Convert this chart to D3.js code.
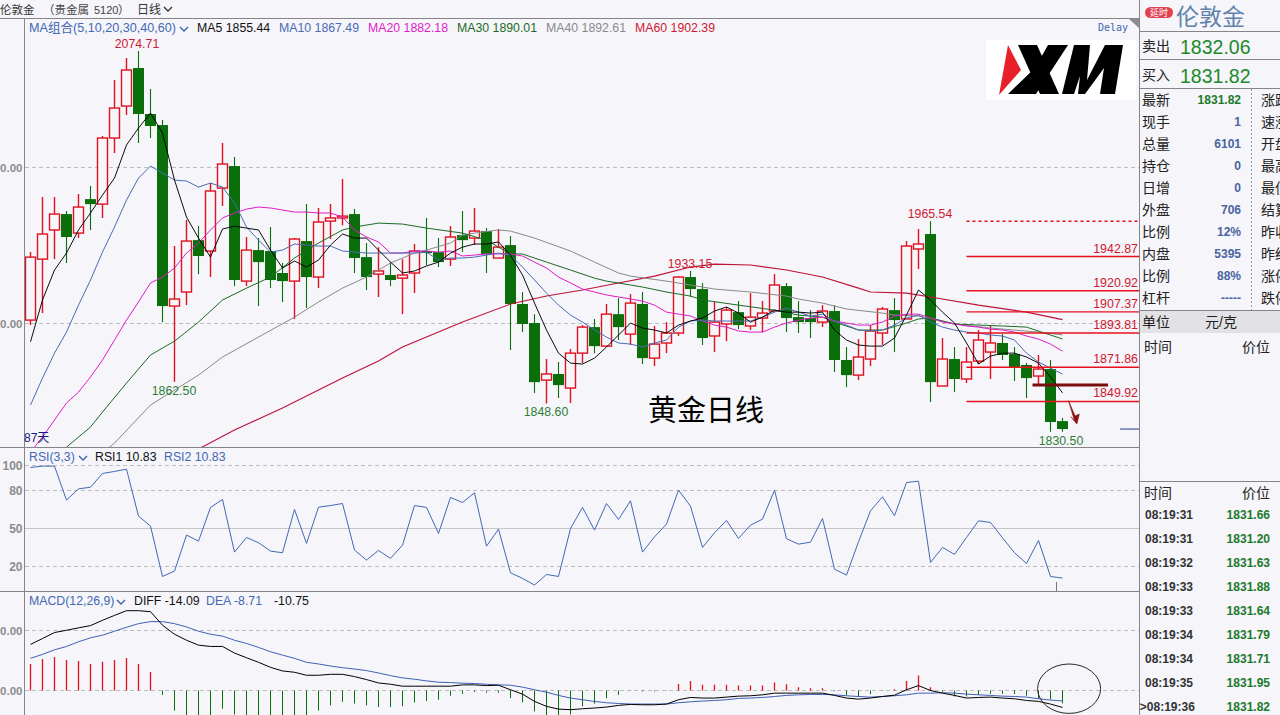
<!DOCTYPE html>
<html>
<head>
<meta charset="utf-8">
<script src="https://cdn.jsdelivr.net/npm/d3@7"></script>
<style>
html,body{margin:0;padding:0;background:#f5f5fa;overflow:hidden}
svg{display:block;font-family:"Liberation Sans","Noto Sans CJK SC",sans-serif}
</style>
</head>
<body>
<svg id="c" width="1280" height="715"></svg>
<script>
// ---------- price pane ----------
const open=[1902.1,1941.2,1959.9,1970.1,1957.9,1979.7,1976.5,2018.9,2039.4,2063.8,2034.3,2027.2,1911.1,1920.1,1953.4,1946.4,1986.8,2000.9,1927.1,1947,1946.4,1932.3,1927.1,1952.8,1929.7,1965.6,1967.6,1970.1,1942.5,1931.6,1931,1929,1932.3,1946.4,1945.7,1941.2,1956.6,1954.7,1959.2,1941.9,1950.2,1912.4,1900.2,1863.6,1867.5,1858.5,1880.9,1897.6,1885.4,1905.9,1893.1,1912.4,1877.7,1887.4,1893.8,1929.7,1922,1891.9,1899.6,1907.2,1898.3,1903.4,1907.9,1923.9,1904,1903.4,1900.8,1907.9,1876.5,1866.8,1877.1,1893.8,1908.5,1902.8,1947.7,1957.3,1859.8,1877.1,1864.3,1875.8,1881.6,1887.4,1880.3,1873.3,1866.2,1870.7,1837.3];
const high=[1945.7,1981,1981,1972,1982.9,1988.1,2020.2,2056.1,2070.2,2074.71,2050.3,2030.4,1949.6,1966.3,1962.4,1990,2015.7,2006.7,1955.4,1954.7,1961.8,1938.7,1954.7,1976.5,1974,1976.5,1992.6,1973.3,1951.5,1948.9,1939.3,1941.2,1950.9,1967.6,1954.7,1962.4,1972,1974,1961.1,1960.5,1956,1920.1,1905.9,1877.1,1875.2,1883.5,1898.9,1902.8,1912.4,1916.2,1918.8,1920.1,1898.3,1900.8,1930.3,1933.6,1925.9,1913.7,1910.5,1914.3,1919.4,1914.3,1931.6,1925.9,1914.3,1908.5,1911.7,1911.7,1884.8,1889.9,1898.9,1910.5,1916.2,1952.8,1960.5,1965.54,1890.6,1884.8,1884.8,1895.7,1898.3,1893.1,1884.8,1874.5,1879.7,1876.5,1839.3];
const low=[1898.9,1906.6,1941.2,1938.7,1954.7,1959.9,1967.6,2009.3,2033.6,2015.7,2018.9,1900.8,1862.5,1911.7,1931.6,1929.7,1975.3,1923.9,1923.9,1911.1,1922.6,1913.7,1902.8,1909.8,1922.6,1954.1,1963,1932.3,1921.4,1916.9,1923.9,1905.9,1919.4,1937.4,1936.1,1936.8,1945.7,1950.2,1932.3,1941.9,1882.9,1894.4,1855.3,1848.6,1852.1,1848.9,1874.5,1880.9,1884.8,1889.3,1886.1,1873.9,1872.6,1880.9,1891.9,1916.9,1886.1,1881.6,1888.6,1896.3,1895.7,1894.4,1907.9,1894.4,1893.8,1890.6,1897.6,1868.8,1859.1,1863.6,1872.6,1886.1,1881.6,1902.8,1934.8,1849.5,1859.8,1855.9,1861.7,1873.9,1864.3,1876.5,1863,1852.1,1859.8,1830.5,1830.5];
const close=[1942.5,1957.3,1970.1,1955.4,1974.6,1976.5,2018.9,2038.1,2062.5,2034.3,2026.6,1911.1,1915.6,1952.8,1943.2,1984.9,2002.2,1927.8,1947,1939.3,1927.8,1927.1,1954.1,1929.7,1965,1967.6,1968.8,1941.9,1929.7,1933.6,1927.8,1931,1946.4,1945.1,1939.3,1955.4,1953.4,1959.2,1944.5,1948.9,1912.4,1899.6,1862.3,1867.5,1860.4,1880.9,1897.6,1885.4,1905.9,1897.6,1913,1877.7,1886.7,1893.8,1929.7,1922,1890.6,1900.8,1908.5,1898.9,1904,1906.6,1924.6,1903.4,1900.8,1900.8,1907.9,1876.5,1866.8,1878.4,1895.1,1909.2,1902.1,1949.6,1950.9,1862.3,1877.1,1864.3,1875.2,1889.3,1887.4,1879.7,1871.9,1864.9,1870.7,1836.7,1832.2];

const ma5=[1888.2,1915,1934.2,1945.1,1959.9,1970.8,1982.3,1993.2,2014.4,2025.3,2034.9,2022.1,1991.9,1968.2,1954.7,1942.5,1960.5,1962.4,1961.1,1959.9,1947,1935.5,1940,1936.1,1940.6,1950.2,1957.3,1954.7,1954.7,1947,1939.3,1932.3,1933.6,1936.8,1939.3,1945.1,1948.9,1950.9,1950.9,1952.2,1943.8,1931,1913,1895.7,1880.9,1874.5,1873.9,1877.7,1884.8,1892.5,1900.2,1897,1895.7,1893.8,1898.9,1901.5,1903.4,1907.9,1910.5,1906.6,1900.8,1904,1908.5,1907.2,1907.2,1906.6,1907.2,1895.7,1889.3,1886.1,1885.4,1885.4,1890.6,1905.3,1921.4,1915,1907.2,1900.2,1887.4,1873.9,1879,1880.9,1880.9,1878.4,1874.5,1865.6,1855.44];
const ma10=[1847.6,1864.9,1880.9,1894.4,1911.7,1927.8,1945.7,1961.8,1979.1,1993.2,2000.9,1996.4,1991.9,1991.3,1987.4,1990,1987.4,1977.2,1961.8,1953.4,1945.7,1947,1950.9,1950.2,1949.6,1949.6,1946.4,1945.7,1945.1,1945.1,1945.1,1945.1,1945.1,1945.7,1940.6,1941.9,1941.9,1942.5,1943.8,1945.1,1943.8,1936.1,1927.8,1919.4,1911.7,1905.3,1900.8,1895.7,1891.2,1887.4,1886.7,1884.8,1887.4,1889.3,1897.6,1901.5,1902.1,1901.5,1901.5,1901.5,1901.5,1904,1907.2,1909.8,1907.2,1904.7,1905.9,1901.5,1898.9,1895.7,1895.1,1895.7,1898.9,1903.4,1905.3,1900.8,1897.6,1895.7,1894.4,1893.8,1892.5,1891.9,1889.3,1880.9,1875.2,1871.3,1867.49];
const ma20=[1817.4,1827.1,1838,1848.9,1855.9,1865.6,1876.5,1889.3,1902.1,1913.7,1925.9,1929.7,1935.5,1945.1,1951.5,1959.9,1967.6,1970.8,1973.3,1974.6,1974,1972.7,1971.4,1971.4,1970.8,1970.8,1968.2,1959.9,1955.4,1952.2,1945.1,1945.1,1946.4,1946.4,1945.7,1946.4,1943.2,1943.8,1944.5,1944.5,1944.5,1943.2,1939.3,1935.5,1929.7,1925.9,1922,1920.1,1918.2,1916.9,1915.6,1914.3,1911.7,1907.2,1905.9,1904.7,1901.5,1898.9,1897.6,1895.1,1894.4,1894.4,1897.6,1900.2,1902.1,1903.4,1904,1901.5,1900.2,1898.9,1898.9,1900.8,1904.7,1905.9,1905.9,1903.4,1900.8,1899.6,1898.3,1897.6,1896.3,1895.7,1894.4,1891.9,1889.9,1886.7,1882.18];

const ma30Index=[3,5,6,8,10,12,14,16,18,20,22,24,26,27,29,31,33,36,38,39,40,41,43,45,47,48,50,51,53,55,56,59,62,64,66,67,69,71,73,74,75,77,79,81,83,85,86];
const ma30=[1820.6,1833.5,1843.1,1861.7,1879.7,1888.6,1900.8,1915,1922.6,1929.7,1941.9,1951.5,1959.9,1961.8,1964.3,1963.7,1961.1,1957.9,1953.4,1948.9,1944.5,1944.5,1939.3,1934.2,1929,1927.1,1924.6,1923.3,1920.1,1917.5,1915,1911.7,1908.5,1905.3,1904,1900.8,1895.7,1895.7,1900.2,1902.8,1903.4,1899.6,1898.9,1898.3,1897.6,1892.5,1890.01];
const ma40Index=[6,7,10,14,16,19,22,24,26,28,30,32,33,35,36,37,39,40,42,45,47,49,50,53,55,57,60,63,64,66,68,71,72,74,75,77,80,82,84,86];
const ma40=[1817,1823.2,1847.6,1866.8,1878.4,1891.2,1904,1913.7,1922.6,1929.7,1938.7,1945.1,1947,1951.5,1956.6,1957.9,1959.9,1959.2,1954.7,1946.4,1939.3,1932.3,1930.3,1927.1,1924.6,1922,1920.1,1917.5,1915.6,1913,1909.2,1906.6,1905.3,1904.7,1903.4,1899.6,1897,1895.7,1894.4,1892.61];
const ma60Index=[14,17,21,24,26,29,31,33,36,40,43,46,49,52,55,57,60,63,66,69,70,73,75,79,83,86];
const ma60=[1819.4,1831.6,1845.7,1857.2,1864.9,1875.8,1884.8,1891.2,1900.8,1912.4,1917.5,1921.4,1925.9,1930.3,1936.1,1938,1937.4,1934.2,1929.7,1922.6,1920.1,1919.4,1916.9,1911.7,1907.2,1902.39];

const priceTicks=[2000,1900];
const fibValues=[1942.87,1920.92,1907.37,1893.81,1871.86,1849.92];
const fibTop=1965.54;
const supportLevel=1860.4;
const lastPrice=1832.2;
const maNames=["MA5","MA10","MA20","MA30","MA40","MA60"];
const maLabels=["1855.44","1867.49","1882.18","1890.01","1892.61","1902.39"];

// ---------- RSI pane ----------
const rsi=[98.4,99.5,99.5,72.6,81.5,82.8,93.7,95.3,97.1,59.9,52,12.1,16.4,44.9,40.1,66.8,73.1,31.4,43,38.8,32.2,30.9,65.2,38.3,67,68.3,69.9,33,25.1,32.7,26.4,36.9,68.3,66.8,46.2,74.7,70.7,78.4,36.1,49.6,15,10.6,5.3,13.7,12.1,50.1,66.8,48.8,69.9,57.3,72,31.4,43.5,53.6,80.5,67.8,35.1,46.7,56.5,42.2,52.8,57.5,80.5,42,37.7,39.3,58,17.9,13.2,39.6,64.1,75.2,60.2,86.5,87.6,23.2,35.1,29.6,43,56.2,54.9,42.7,30.9,22.4,40.6,12.1,10.83];
const rsiTicks=[100,80,50,20];

// ---------- MACD pane ----------
const diff=[38.4,43.3,48.3,50.2,52.2,54.1,58.5,62.6,66.5,66.5,65.7,54.4,46.9,41.9,37.8,36.7,36.7,31.2,27.3,23.5,19.3,16.3,15.2,12.7,12.7,13.5,13.5,11.6,9.1,6.3,5.2,3.6,3.6,3.6,3.6,3.6,4.7,4.7,4.1,4.4,0.6,-3,-9.1,-13.2,-15.5,-16,-15.2,-14.6,-13.8,-12.4,-11.6,-11.9,-11.9,-11.3,-7.7,-5.8,-6.3,-6.3,-5.5,-4.7,-4.4,-3.6,-2.2,-2.2,-2.2,-2.2,-2.2,-4.1,-6.3,-7.2,-6.3,-5,-3.9,0.6,4.1,0,-2.2,-4.1,-6.3,-5.8,-5.5,-6.3,-6.9,-8.3,-9.1,-11.3,-14.09];
const dea=[26.8,30.1,33.9,36.7,40.6,43.9,46.1,49.4,52.7,55.7,57.4,57.4,55.7,53,49.4,46.9,45.3,41.9,39.2,35.9,32.3,29.5,26.8,23.5,22.1,20.4,19,17.9,16.6,14.6,12.4,10.5,9.4,8,6.9,6.6,6.1,5.8,5.2,4.7,4.4,2.8,0.6,-1.4,-4.1,-6.3,-7.7,-9.1,-10.2,-10.8,-11.3,-11.3,-11.3,-11.3,-10.2,-9.4,-8.8,-8.3,-7.7,-6.6,-6.3,-5.8,-5,-4.1,-3.6,-3.3,-3.3,-3.6,-4.4,-5,-5.5,-5,-4.4,-3.6,-2.2,-2.2,-1.9,-2.2,-3,-3.6,-4.1,-4.7,-5,-5.5,-6.9,-8,-8.71];
const macd=[22.1,26.2,27.9,25.4,24.6,22.1,24,25.4,27,22.1,15.5,-3.6,-16.8,-22,-24,-22,-15.2,-20,-24,-24,-25,-25,-24,-23,-16.6,-12.4,-9.4,-10.8,-12.4,-13.8,-13.8,-13.2,-9.9,-8.8,-7.7,-4.4,-2.8,-1.1,-1.7,-1.9,-6.3,-9.9,-17.4,-21,-22,-20,-13.2,-11,-6.3,-3.6,-0.3,-0.8,-0.8,-0.2,5.5,8,4.7,4.7,4.7,4.1,4.1,4.1,6.6,5.2,2.8,1.9,1.9,-0.6,-4.1,-5,-3,-0.3,1.1,8,12.4,2.8,-1.1,-5,-5,-3.6,-2.8,-2.8,-3,-4.4,-6.6,-7.5,-10.75];
const macdTicks=[50,0];

// ---------- quote panel ----------
const quoteLabels=["最新","现手","总量","持仓","日增","外盘","比例","内盘","比例","杠杆"];
const quoteValues=["1831.82","1","6101","0","0","706","12%","5395","88%","-----"];
const quoteLabels2=["涨跌","速涨","开盘","最高","最低","结算","昨收","昨结","涨停","跌停"];
const tickTimes=["08:19:31","08:19:31","08:19:32","08:19:33","08:19:33","08:19:34","08:19:34","08:19:35",">08:19:36"];
const tickPrices=["1831.66","1831.20","1831.63","1831.88","1831.64","1831.79","1831.71","1831.95","1831.82"];

// ---------- drawing ----------
const svg=d3.select("#c");
const BG="#f5f5fa",RED="#e0101f",GREEN="#0a6e0a",BLUE="#4468b4",LINE="#858589",TXTGREEN="#2f7d32",TXTRED="#d0182f";
const PANEL=1139.5;
const n=open.length;
const x=d3.scaleLinear().domain([0,n-1]).range([30.5,1062.5]);
const y=d3.scaleLinear().domain([2074.71,1830.5]).range([51,431.7]);
const yR=d3.scaleLinear().domain([100,20]).range([465.5,566.5]);
const yM=d3.scaleLinear().domain([50,0]).range([630.5,690.5]);

const defs=svg.append("defs");
defs.append("clipPath").attr("id","pricePane").append("rect").attr("x",25).attr("y",19).attr("width",PANEL-25).attr("height",428);
defs.append("clipPath").attr("id","macdPane").append("rect").attr("x",25).attr("y",592).attr("width",PANEL-25).attr("height",123);

function grid(scale,vals,solid){
  const g=svg.append("g");
  g.selectAll("line").data(vals).join("line")
   .attr("x1",25).attr("x2",PANEL)
   .attr("y1",d=>Math.floor(scale(d))+.5).attr("y2",d=>Math.floor(scale(d))+.5)
   .attr("stroke",d=>solid&&solid(d)?"#c6c6c6":"#bdbdbd")
   .attr("stroke-dasharray",d=>solid&&solid(d)?null:"4,3");
}
grid(y,priceTicks);
grid(yR,rsiTicks,d=>d===50);
grid(yM,macdTicks);

function axis(scale,vals,fmt,size){
  const g=svg.append("g").attr("transform","translate(24.5,0)")
    .call(d3.axisLeft(scale).tickValues(vals).tickSize(0).tickPadding(2).tickFormat(fmt));
  g.select(".domain").remove();
  g.selectAll("text").attr("fill","#8c8c8c").attr("font-size",size).attr("font-weight","bold")
    .attr("font-family",'"Liberation Sans",sans-serif');
}
// the reference window cuts these labels on the left, leaving only their last four characters
const cutLabel=d=>d3.format(".2f")(d).slice(-4);
axis(y,priceTicks,cutLabel,11.5);
axis(yR,rsiTicks,d3.format("d"),12);
axis(yM,macdTicks,cutLabel,11.5);

// candles
const candles=d3.range(n).map(i=>({i,o:open[i],h:high[i],l:low[i],c:close[i],up:close[i]>=open[i]}));
const pr=svg.append("g").attr("clip-path","url(#pricePane)");
const cg=pr.append("g");
cg.selectAll("line.w").data(candles).join("line").attr("class","w")
  .attr("x1",d=>x(d.i)).attr("x2",d=>x(d.i)).attr("y1",d=>y(d.h)).attr("y2",d=>y(d.l))
  .attr("stroke",d=>d.up?RED:GREEN).attr("stroke-width",d=>d.up?1.4:1.1);
cg.selectAll("rect.b").data(candles).join("rect").attr("class","b")
  .attr("x",d=>x(d.i)-(d.up?5:5.5)).attr("width",d=>d.up?10:11)
  .attr("y",d=>y(Math.max(d.o,d.c))).attr("height",d=>Math.max(1,Math.abs(y(d.o)-y(d.c))))
  .attr("fill",d=>d.up?BG:GREEN).attr("stroke",d=>d.up?RED:"none").attr("stroke-width",1.4);

// moving averages
const ln=d3.line().x(d=>x(d[0])).y(d=>y(d[1]));
const maSeries=[
 [ma60Index,ma60,"#bf1236",1.1],
 [ma40Index,ma40,"#8a8a8a",1],
 [ma30Index,ma30,"#1d6b25",1],
 [d3.range(n),ma20,"#e01cc8",1],
 [d3.range(n),ma10,"#4a6cb4",1],
 [d3.range(n),ma5,"#000000",0.95]
];
maSeries.forEach(([idx,vals,col,w])=>{
  pr.append("path").datum(idx.map((k,j)=>[k,vals[j]])).attr("d",ln).attr("fill","none").attr("stroke",col).attr("stroke-width",w);
});

// fibonacci levels
const fibX0=x(78);
svg.append("line").attr("x1",fibX0).attr("x2",PANEL).attr("y1",y(fibTop)).attr("y2",y(fibTop)).attr("stroke","#e8101c").attr("stroke-width",1.4).attr("stroke-dasharray","3,3");
svg.append("g").selectAll("line").data(fibValues).join("line").attr("x1",fibX0).attr("x2",PANEL)
  .attr("y1",d=>y(d)).attr("y2",d=>y(d)).attr("stroke","#e8101c").attr("stroke-width",1.4);
svg.append("g").selectAll("text").data(fibValues).join("text").attr("x",1138).attr("y",d=>y(d)-4)
  .attr("text-anchor","end").attr("font-size",12.4).attr("fill",TXTRED).text(d=>d.toFixed(2));

// hand annotations
svg.append("line").attr("x1",x(83.5)).attr("x2",x(89.8)).attr("y1",y(supportLevel)).attr("y2",y(supportLevel)).attr("stroke","#7a0d0d").attr("stroke-width",3);
const arrow=[[86.5,1850.4],[87.0,1837.5],[86.7,1840.1],[87.2,1835.4],[87.4,1841.8],[87.05,1840.6]];
svg.append("path").attr("d",d3.line().x(d=>x(d[0])).y(d=>y(d[1]))(arrow)+"Z").attr("fill","#8a1010").attr("stroke","#8a1010").attr("stroke-width",.6);
svg.append("line").attr("x1",x(90.8)).attr("x2",PANEL).attr("y1",y(lastPrice)).attr("y2",y(lastPrice)).attr("stroke","#22338c");

// RSI line
svg.append("path").datum(rsi).attr("fill","none").attr("stroke",BLUE).attr("stroke-width",1)
  .attr("d",d3.line().x((d,i)=>x(i)).y(d=>yR(d)));
svg.append("line").attr("x1",x(85.5)).attr("x2",x(85.5)).attr("y1",yR(7.7)).attr("y2",591).attr("stroke","#777");

// MACD
const mg=svg.append("g").attr("clip-path","url(#macdPane)");
mg.selectAll("line").data(macd).join("line")
  .attr("x1",(d,i)=>x(i)).attr("x2",(d,i)=>x(i)).attr("y1",yM(0)).attr("y2",d=>yM(d))
  .attr("stroke",d=>d>=0?RED:GREEN).attr("stroke-width",d=>d>=0?1.3:1);
mg.append("path").datum(dea).attr("fill","none").attr("stroke","#3f5fb5").attr("stroke-width",1)
  .attr("d",d3.line().x((d,i)=>x(i)).y(d=>yM(d)));
mg.append("path").datum(diff).attr("fill","none").attr("stroke","#000").attr("stroke-width",1)
  .attr("d",d3.line().x((d,i)=>x(i)).y(d=>yM(d)));
svg.append("ellipse").attr("cx",x(86.55)).attr("cy",yM(1.5)).attr("rx",31.5).attr("ry",24.7).attr("fill","none").attr("stroke","#2a2a2a");

// frame
function frame(a,b,c,d,col){svg.append("line").attr("x1",a).attr("y1",b).attr("x2",c).attr("y2",d).attr("stroke",col||LINE);}
frame(0,18.5,PANEL,18.5);
frame(24.5,18,24.5,715);
frame(0,447.5,PANEL,447.5);
frame(0,591.5,PANEL,591.5);
frame(PANEL,0,PANEL,715);
svg.append("polygon").attr("points","1129,19 1139,19 1139,28").attr("fill","#8d8d8d");

function T(x0,y0,s,col,size,opts){
  const t=svg.append("text").attr("x",x0).attr("y",y0).attr("fill",col||"#222").attr("font-size",size||12.3).text(s);
  if(opts) Object.entries(opts).forEach(([k,v])=>t.attr(k,v));
  return t;
}
function chev(cx,cy,col){
  svg.append("path").attr("d",`M${cx-4},${cy-2}L${cx},${cy+2}L${cx+4},${cy-2}`).attr("fill","none").attr("stroke",col).attr("stroke-width",1.3);
}

// header
T(0,14,"伦敦金","#333",11.5);
T(43,14,"（贵金属","#444",11.5);
T(94,14,"5120","#444",11);
T(118,14,"）","#444",11.5);
T(137,14,"日线","#333",12);
chev(168,9,"#333");

// MA legend
T(29,32,"MA组合(5,10,20,30,40,60)",BLUE,12.6);
chev(184,29,"#3b5ea8");
const maColors=["#111","#4a6cb4","#e01cc8","#1d6b25","#8a8a8a","#d0182f"];
const maX=[197,279,368,457,546,635];
maNames.forEach((m,i)=>T(maX[i],32,m+" "+maLabels[i],maColors[i]));

// price labels
T(137,48,"2074.71",TXTRED,undefined,{"text-anchor":"middle"});
T(174,395,"1862.50",TXTGREEN,undefined,{"text-anchor":"middle"});
T(546,416,"1848.60",TXTGREEN,undefined,{"text-anchor":"middle"});
T(690,268,"1933.15",TXTRED,undefined,{"text-anchor":"middle"});
T(930,218,"1965.54",TXTRED,undefined,{"text-anchor":"middle"});
T(1061,445,"1830.50",TXTGREEN,undefined,{"text-anchor":"middle"});
T(24,442,"87天","#1a1a7a",12);
T(648,421,"黄金日线","#000",29,{"font-family":'"Noto Sans CJK SC",sans-serif'});
T(1098,31,"Delay",BLUE,10,{"font-family":'"DejaVu Sans Mono",monospace'});

// RSI / MACD legends
T(29,461,"RSI(3,3)",BLUE);chev(83,458,"#3b5ea8");
T(95,461,"RSI1 10.83","#111");
T(164,461,"RSI2 10.83",BLUE);
T(29,605,"MACD(12,26,9)",BLUE);chev(121,602,"#3b5ea8");
T(134,605,"DIFF -14.09","#111");
T(206,605,"DEA -8.71",BLUE);
T(274,605,"-10.75","#111");

// XM logo
svg.append("rect").attr("x",986).attr("y",40).attr("width",150).attr("height",60).attr("fill","#fff");
svg.append("polygon").attr("points","1008,45 1021,70 999,95").attr("fill","#e8202a");
[
 "1018,45 1037,45 1059,94 1040,94",
 "1048,45 1068,45 1036,94 1008,94 1035,68",
 "1062,94 1074,45 1090,45 1087,80 1105,45 1123,45 1115,94 1100,94 1104,68 1085,94 1078,94 1080,76 1074,94"
].forEach(p=>svg.append("polygon").attr("points",p).attr("fill","#000"));

// quote panel
svg.append("rect").attr("x",1140).attr("y",310.5).attr("width",140).attr("height",22.5).attr("fill","#e2e2e6");
[31.5,59.5,88.5,310.5,481.5].forEach(v=>frame(1140,v,1280,v));
svg.append("line").attr("x1",1251.5).attr("x2",1251.5).attr("y1",89).attr("y2",310).attr("stroke","#999").attr("stroke-dasharray","2,2");
svg.append("rect").attr("x",1145).attr("y",7).attr("width",28).attr("height",11).attr("rx",5.5).attr("fill","#e2424f");
T(1159,16,"延时","#fff",9,{"text-anchor":"middle"});
T(1176,25,"伦敦金","#6082aa",23);
T(1142,51,"卖出","#222",14);
T(1180,54,"1832.06","#1c8a2a",19.5);
T(1142,80,"买入","#222",14);
T(1180,83,"1831.82","#1c8a2a",19.5);
const rowY=d3.scaleLinear().domain([0,9]).range([100,298]);
quoteLabels.forEach((s,i)=>{
  T(1142,rowY(i)+5,s,"#222",14);
  T(1241,rowY(i)+4,quoteValues[i],i===0?"#1c7a2a":"#4a64a0",12,{"text-anchor":"end","font-weight":"bold"});
  T(1261,rowY(i)+5,quoteLabels2[i],"#222",14);
});
T(1142,327,"单位","#222",14);
T(1205,327,"元/克","#222",14);
T(1144,352,"时间","#222",14);
T(1242,352,"价位","#222",14);
T(1144,498,"时间","#222",14);
T(1242,498,"价位","#222",14);
const tickY=d3.scaleLinear().domain([0,8]).range([515,707]);
tickTimes.forEach((s,i)=>{
  T(s[0]===">"?1139.8:1145,tickY(i)+4,s,"#333",12,{"font-weight":"bold"});
  T(1270,tickY(i)+4,tickPrices[i],"#1c7a2a",12,{"text-anchor":"end","font-weight":"bold"});
});
</script>
</body>
</html>
